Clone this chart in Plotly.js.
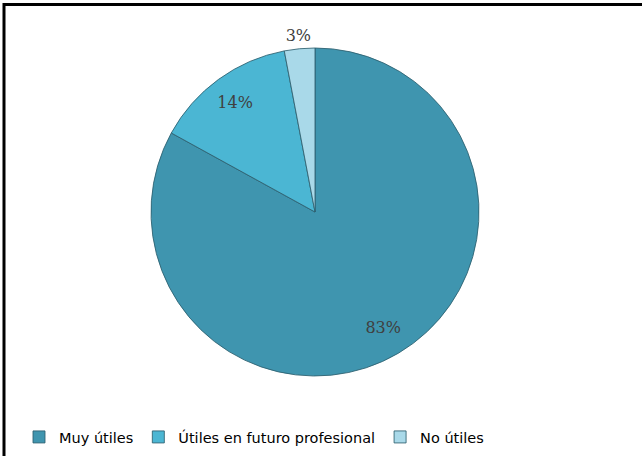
<!DOCTYPE html>
<html>
<head>
<meta charset="utf-8">
<script src="https://cdn.plot.ly/plotly-3.0.1.min.js"></script>
<style>html,body{margin:0;padding:0;background:#fff;}#chart{width:642px;height:456px;}</style>
</head>
<body>
<div id="chart"></div>
<script>
const categories = ["Muy útiles", "Útiles en futuro profesional", "No útiles"];
const values = [83, 14, 3];
const sliceColors = ["#3f95af", "#4bb6d3", "#a9d9e9"];

const W = 642, H = 456;
const cx = 315, cy = 212, R = 164;      // pie placement (pixels)
const RL = 193.7, labelHole = 0.383;    // label ring placement

const pie = {
  type: "pie",
  labels: categories,
  values: values,
  sort: false,
  direction: "clockwise",
  rotation: 0,
  marker: { colors: sliceColors, line: { color: "rgba(45,95,110,0.85)", width: 1 } },
  textinfo: "none",
  domain: { x: [(cx - R) / W, (cx + R) / W], y: [1 - (cy + R) / H, 1 - (cy - R) / H] },
  hoverinfo: "none"
};

// transparent ring carrying the percentage labels
const labelsRing = {
  type: "pie",
  labels: categories,
  values: values,
  sort: false,
  direction: "clockwise",
  rotation: 0,
  hole: labelHole,
  showlegend: false,
  marker: { colors: ["rgba(0,0,0,0)", "rgba(0,0,0,0)", "rgba(0,0,0,0)"], line: { width: 0 } },
  texttemplate: "%{percent:.0%}",
  textposition: "inside",
  insidetextorientation: "horizontal",
  textfont: { family: "DejaVu Serif", size: 16, color: "#404040" },
  domain: { x: [(cx - RL) / W, (cx + RL) / W], y: [1 - (cy + RL) / H, 1 - (cy - RL) / H] },
  hoverinfo: "none"
};

const layout = {
  width: W, height: H,
  margin: { l: 0, r: 0, t: 0, b: 0 },
  paper_bgcolor: "#ffffff",
  showlegend: true,
  legend: {
    orientation: "h",
    x: 19 / W, xanchor: "left",
    y: 1 - 437 / H, yanchor: "middle",
    font: { family: "DejaVu Sans", size: 14.5, color: "#000000" },
    itemwidth: 30,
    traceorder: "normal"
  },
  shapes: [
    { type: "line", xref: "paper", yref: "paper", x0: 3 / W, x1: 1, y0: 1 - 4.5 / H, y1: 1 - 4.5 / H, line: { color: "#000", width: 3 } },
    { type: "line", xref: "paper", yref: "paper", x0: 4 / W, x1: 4 / W, y0: 0, y1: 1 - 3 / H, line: { color: "#000", width: 3 } }
  ]
};

Plotly.newPlot("chart", [pie, labelsRing], layout, { displayModeBar: false, staticPlot: true });
</script>
</body>
</html>
